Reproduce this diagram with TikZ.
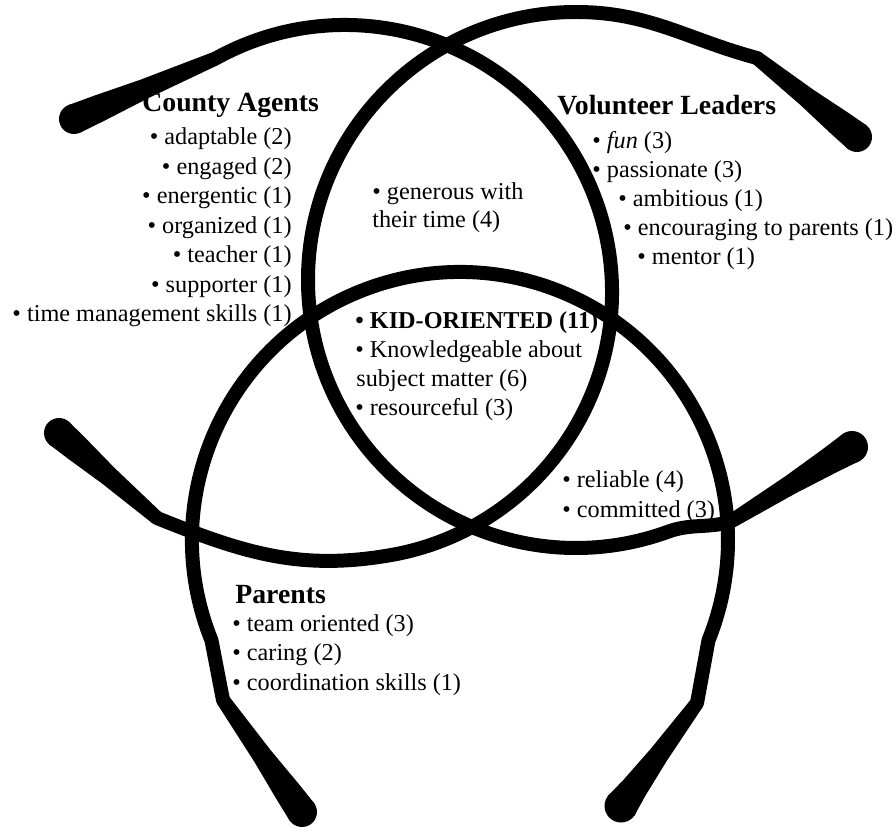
\documentclass[tikz,border=0pt]{standalone}
\usepackage{fontspec}
\setmainfont{Liberation Serif}
\usetikzlibrary{calc}
\tikzset{
    ring/.style = {line width=0.28cm, line cap=round, line join=round},% the hand drawn circle strokes
    head/.style = {inner sep=0pt, font=\fontsize{15.8}{19}\selectfont\bfseries},
    item/.style = {inner sep=0pt, font=\fontsize{13.8}{16.5}\selectfont}
}
% tapered brush end of a stroke: base, tip, radius of the tip
\newcommand{\brushend}[3]{%
  \coordinate (bm) at ($(#1)!0.5!(#2)$);
  \coordinate (bn) at ($(#1)!0.82!(#2)$);
  \fill ($(#1)!0.14cm!90:(#2)$) -- ($(bm)!0.2cm!90:(#2)$) -- ($(bn)!0.27cm!90:(#2)$) -- ($(#2)!#3!-90:(#1)$)
     -- ($(#2)!#3!90:(#1)$) -- ($(bn)!0.27cm!-90:(#2)$) -- ($(bm)!0.2cm!-90:(#2)$) -- ($(#1)!0.14cm!-90:(#2)$) -- cycle;
  \fill (#2) circle[radius=#3];
}

\begin{document}
\begin{tikzpicture}[x=0.02cm, y=0.02cm]
    \useasboundingbox (0,0) rectangle (896,836);

    % County Agents circle
    \coordinate (caA) at (215.6,777.5);
    \coordinate (caAt) at (74,717);
    \coordinate (caB) at (157,318);
    \coordinate (caBt) at (59,403);
    \draw[ring] (caA) arc[start angle=119, end angle=-80, radius=267] to[out=190, in=-22] (caB);
    \brushend{caA}{caAt}{0.3cm}
    \brushend{caB}{caBt}{0.3cm}

    % Volunteer Leaders circle
    \coordinate (vlA) at (757,778);
    \coordinate (vlAt) at (857,699);
    \coordinate (vl0) at (576,824);
    \coordinate (vlB) at (730,314);
    \coordinate (vlBt) at (852,389);
    \draw[ring] (vlA) to[out=165, in=0] (vl0) arc[start angle=90, end angle=290, radius=268]
        to[out=20, in=195] (vlB);
    \brushend{vlA}{vlAt}{0.3cm}
    \brushend{vlB}{vlBt}{0.32cm}

    % Parents circle
    \coordinate (pA) at (223,136);
    \coordinate (pAt) at (302,24);
    \coordinate (p0) at (211.5,195.6);
    \coordinate (pB) at (697,133);
    \coordinate (pBt) at (621,30);
    \draw[ring] (pA) -- (p0) arc[start angle=202, end angle=-22, radius=268] -- (pB);
    \brushend{pA}{pAt}{0.3cm}
    \brushend{pB}{pBt}{0.33cm}

    % headings
    \node[head, anchor=base west] (ca) at (142,724.3) {County Agents};
    \node[head, anchor=base west] (vl) at (557,721) {Volunteer Leaders};
    \node[head, anchor=base west] (par) at (235,233) {Parents};

    % lists
    \foreach \txt [count=\i] in {adaptable (2), engaged (2), energentic (1), organized (1), teacher (1), supporter (1), time management skills (1)}
        \node[item, anchor=base east] (ca\i) at (292,{691-29.5*(\i-1)}) {\textbullet\ \txt};
    \foreach \x/\txt [count=\i] in {592/\textit{fun} (3), 592/passionate (3), 618/ambitious (1), 623/encouraging to parents (1), 637/mentor (1)}
        \node[item, anchor=base west] (vl\i) at (\x,{687-29*(\i-1)}) {\textbullet\ \txt};
    \foreach \txt [count=\i] in {team oriented (3), caring (2), coordination skills (1)}
        \node[item, anchor=base west] (par\i) at (232,{204.3-29.2*(\i-1)}) {\textbullet\ \txt};

    % overlaps
    \node[item, anchor=base west] (gen1) at (372,636) {\textbullet\ generous with};
    \node[item, anchor=base west] (gen2) at (372,608) {their time (4)};
    \node[item, anchor=base west, font=\fontsize{13.8}{16.5}\selectfont\bfseries] (kid1) at (355,507) {\textbullet\ KID-ORIENTED (11)};
    \node[item, anchor=base west] (kid2) at (355,478) {\textbullet\ Knowledgeable about};
    \node[item, anchor=base west] (kid3) at (356,449) {subject matter (6)};
    \node[item, anchor=base west] (kid4) at (355,420) {\textbullet\ resourceful (3)};
    \node[item, anchor=base west] (rel1) at (562,349) {\textbullet\ reliable (4)};
    \node[item, anchor=base west] (rel2) at (562,319) {\textbullet\ committed (3)};
\end{tikzpicture}
\end{document}
